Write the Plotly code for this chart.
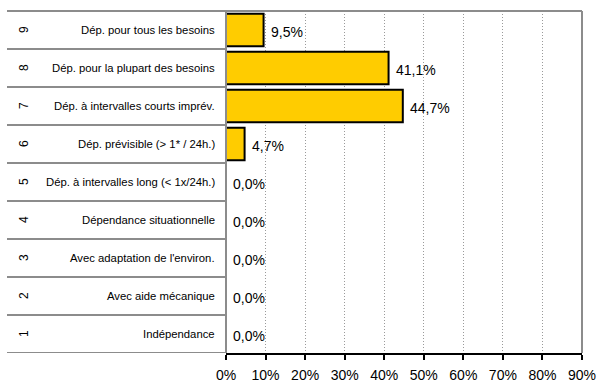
import plotly.graph_objects as go

codes = [1, 2, 3, 4, 5, 6, 7, 8, 9]
labels = [
    "Indépendance",
    "Avec aide mécanique",
    "Avec adaptation de l'environ.",
    "Dépendance situationnelle",
    "Dép. à intervalles long (< 1x/24h.)",
    "Dép. prévisible (> 1* / 24h.)",
    "Dép. à intervalles courts imprév.",
    "Dép. pour la plupart des besoins",
    "Dép. pour tous les besoins",
]
values = [0.0, 0.0, 0.0, 0.0, 0.0, 4.7, 44.7, 41.1, 9.5]
tick_vals = [0, 10, 20, 30, 40, 50, 60, 70, 80, 90]
tick_text = [f"{t}%" for t in tick_vals]

W, H = 600, 383
ML, MR, MT, MB = 226, 18, 11, 30
pw = W - ML - MR
FONT = "Liberation Sans, Arial, sans-serif"
GRAY = "#8c8c8c"

fig = go.Figure()
fig.add_trace(go.Bar(
    x=values, y=codes, orientation="h", width=0.86,
    marker=dict(color="#FFCC00", line=dict(color="#000000", width=2)),
    hoverinfo="skip",
))

shapes = []
left_paper = (7 - ML) / pw
for k in range(len(codes) + 1):
    shapes.append(dict(type="line", xref="paper", yref="y",
                       x0=left_paper, x1=0, y0=0.5 + k, y1=0.5 + k,
                       line=dict(color=GRAY, width=2)))
shapes.append(dict(type="line", xref="paper", yref="paper",
                   x0=left_paper, x1=1, y0=1, y1=1,
                   line=dict(color=GRAY, width=2)))
shapes.append(dict(type="line", xref="paper", yref="paper",
                   x0=1, x1=1, y0=0, y1=1,
                   line=dict(color=GRAY, width=2)))
shapes.append(dict(type="line", xref="paper", yref="paper",
                   x0=0, x1=0, y0=0, y1=1,
                   line=dict(color=GRAY, width=2)))

annotations = []
for c, lab, v in zip(codes, labels, values):
    annotations.append(dict(x=v, y=c, xref="x", yref="y", text=f"{v:.1f}".replace(".", ",") + "%",
                            showarrow=False, xanchor="left", xshift=5, yshift=-2,
                            font=dict(family=FONT, size=14, color="#000000")))
    annotations.append(dict(x=0, y=c, xref="paper", yref="y", text=lab,
                            showarrow=False, xanchor="right", xshift=-9,
                            font=dict(family=FONT, size=11.3, color="#000000")))
    annotations.append(dict(x=(15 - ML) / pw, y=c, xref="paper", yref="y", text=str(c),
                            showarrow=False, textangle=-90,
                            font=dict(family=FONT, size=12, color="#000000")))

fig.update_layout(
    width=W, height=H,
    margin=dict(l=ML, r=MR, t=MT, b=MB, pad=0, autoexpand=False),
    paper_bgcolor="white", plot_bgcolor="white",
    showlegend=False,
    shapes=shapes,
    annotations=annotations,
    xaxis=dict(range=[0, 90], tickvals=tick_vals, ticktext=tick_text,
               automargin=False,
               showgrid=True, gridcolor="#9a9a9a", griddash="1px,2px", gridwidth=1,
               zeroline=False, showline=True, linecolor="#000000", linewidth=2,
               ticks="outside", ticklen=5, tickwidth=2, tickcolor="#000000",
               ticklabelstandoff=3,
               tickfont=dict(family=FONT, size=14, color="#000000"),
               fixedrange=True),
    yaxis=dict(range=[0.5, 9.5], showticklabels=False, showgrid=False,
               automargin=False,
               zeroline=False, showline=False, fixedrange=True),
)

fig.write_html("out.html", config={"displayModeBar": False},
               post_script="document.body.style.margin='0';document.body.style.overflow='hidden';")
